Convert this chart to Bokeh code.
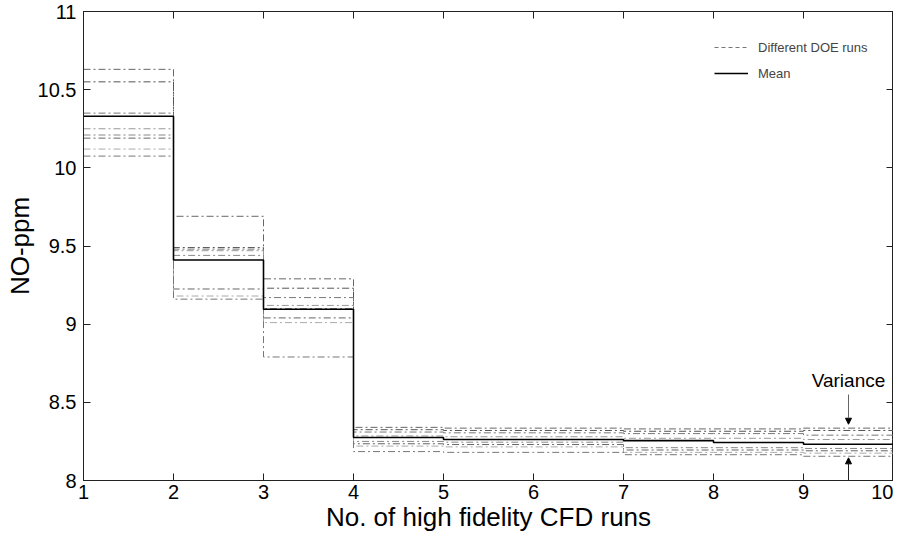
from bokeh.plotting import figure
from bokeh.models import LinearAxis, FixedTicker, Legend, LegendItem, Label, Arrow, NormalHead, Range1d
from bokeh.embed import file_html
from bokeh.resources import INLINE

# ---- data ----
cfd_runs = [1, 2, 3, 4, 5, 6, 7, 8, 9, 10]
run_a = [10.63, 9.69, 9.29, 8.340, 8.335, 8.335, 8.330, 8.330, 8.335]
run_b = [10.55, 9.49, 9.23, 8.325, 8.320, 8.320, 8.315, 8.315, 8.320]
run_c = [10.35, 9.48, 9.17, 8.310, 8.305, 8.305, 8.300, 8.300, 8.290]
run_d = [10.25, 9.47, 9.12, 8.285, 8.280, 8.280, 8.270, 8.270, 8.262]
run_e = [10.21, 9.44, 9.10, 8.250, 8.245, 8.245, 8.210, 8.210, 8.205]
run_f = [10.19, 9.225, 9.04, 8.235, 8.230, 8.230, 8.195, 8.195, 8.190]
run_g = [10.12, 9.18, 9.01, 8.220, 8.215, 8.215, 8.180, 8.180, 8.175]
run_h = [10.075, 9.16, 8.79, 8.185, 8.180, 8.180, 8.165, 8.165, 8.155]
mean_ppm = [10.33, 9.41, 9.095, 8.275, 8.262, 8.262, 8.255, 8.243, 8.232]

y_ticks = [8, 8.5, 9, 9.5, 10, 10.5, 11]
y_tick_labels = ["8", "8.5", "9", "9.5", "10", "10.5", "11"]
x_ticks = [1, 2, 3, 4, 5, 6, 7, 8, 9, 10]

variance_x = 9.5
variance_label_y = 8.64
variance_top = (8.55, 8.36)
variance_bottom = (8.0, 8.145)

FONT = "Liberation Sans"
AXIS_COLOR = "#222222"

p = figure(width=893, height=534, output_backend="svg", toolbar_location=None,
           x_range=Range1d(1, 10), y_range=Range1d(8, 11),
           min_border_left=83, min_border_right=0, min_border_top=11, min_border_bottom=10)
p.xgrid.visible = False
p.ygrid.visible = False
p.outline_line_color = AXIS_COLOR
p.outline_line_width = 1
p.background_fill_color = "white"

runs = [run_a, run_b, run_c, run_d, run_e, run_f, run_g, run_h]
shades = ["#666666", "#555555", "#777777", "#999999", "#888888", "#666666", "#aaaaaa", "#777777"]
for r, c in zip(runs, shades):
    p.step(cfd_runs, r + [r[-1]], mode="after", line_color=c, line_width=1, line_dash="7 3 2 3")

p.step(cfd_runs, mean_ppm + [mean_ppm[-1]], mode="after", line_color="black", line_width=1.6)

# legend proxy renderers (drawn outside the visible ranges)
doe_proxy = p.line([-5, -4], [0, 0], line_color="#777777", line_width=1, line_dash="4 3")
mean_proxy = p.line([-5, -4], [0, 0], line_color="black", line_width=1.4)

legend = Legend(items=[LegendItem(label="Different DOE runs", renderers=[doe_proxy]),
                       LegendItem(label="Mean", renderers=[mean_proxy])])
legend.border_line_alpha = 0
legend.background_fill_alpha = 0
legend.label_text_font = FONT
legend.label_text_font_size = "13px"
legend.glyph_width = 34
legend.glyph_height = 18
legend.label_standoff = 10
legend.spacing = 8
legend.padding = 0
legend.margin = 0
legend.label_height = 18
p.add_layout(legend, "center")
legend.location = (631, 398)

# axes styling
for ax in [p.xaxis[0], p.yaxis[0]]:
    ax.major_tick_in = 7
    ax.major_tick_out = 0
    ax.minor_tick_line_color = None
    ax.axis_line_color = AXIS_COLOR
    ax.major_tick_line_color = AXIS_COLOR
    ax.major_label_text_font = FONT
    ax.major_label_text_font_size = "20px"
    ax.major_label_text_color = "black"
    ax.axis_label_text_font = FONT
    ax.axis_label_text_font_size = "26px"
    ax.axis_label_text_font_style = "normal"
    ax.axis_label_text_color = "black"

p.xaxis[0].ticker = FixedTicker(ticks=x_ticks)
p.yaxis[0].ticker = FixedTicker(ticks=y_ticks)
p.yaxis[0].major_label_overrides = {t: s for t, s in zip(y_ticks, y_tick_labels)}
p.xaxis[0].axis_label = "No. of high fidelity CFD runs"
p.yaxis[0].axis_label = "NO-ppm"
p.xaxis[0].major_label_standoff = 4
p.xaxis[0].axis_label_standoff = 0
p.yaxis[0].major_label_standoff = 7
p.yaxis[0].axis_label_standoff = 0

right_ax = LinearAxis(ticker=FixedTicker(ticks=y_ticks),
                      major_label_overrides={t: "" for t in y_ticks},
                      major_tick_in=7, major_tick_out=0, minor_tick_line_color=None,
                      major_label_standoff=0, axis_line_color=AXIS_COLOR, major_tick_line_color=AXIS_COLOR)
top_ax = LinearAxis(ticker=FixedTicker(ticks=x_ticks),
                    major_label_overrides={t: "" for t in x_ticks},
                    major_tick_in=7, major_tick_out=0, minor_tick_line_color=None,
                    major_label_standoff=0, axis_line_color=AXIS_COLOR, major_tick_line_color=AXIS_COLOR)
p.add_layout(right_ax, "right")
p.add_layout(top_ax, "above")

# variance annotation
p.add_layout(Label(x=variance_x, y=variance_label_y, text="Variance", text_font=FONT,
                   text_font_size="19px", text_align="center", text_baseline="middle", text_color="black"))
p.add_layout(Arrow(end=NormalHead(size=6, fill_color="black", line_color="black"),
                   x_start=variance_x, y_start=variance_top[0], x_end=variance_x, y_end=variance_top[1],
                   line_color="#666666", line_width=1))
p.add_layout(Arrow(end=NormalHead(size=6, fill_color="black", line_color="black"),
                   x_start=variance_x, y_start=variance_bottom[0], x_end=variance_x, y_end=variance_bottom[1],
                   line_color=AXIS_COLOR, line_width=1))

open("out.html", "w").write(file_html(p, INLINE))
